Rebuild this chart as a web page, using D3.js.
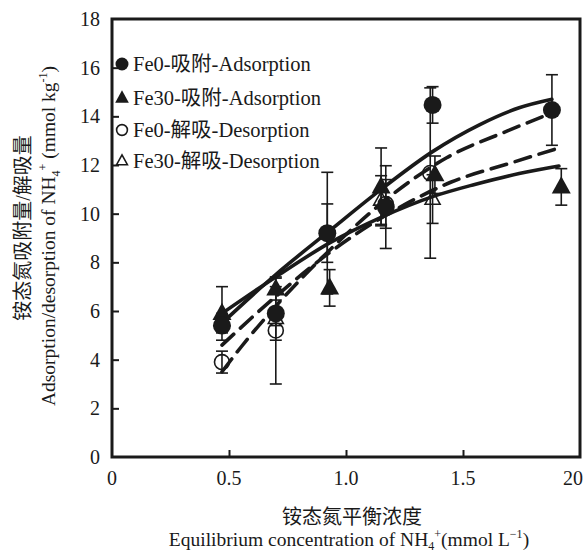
<!DOCTYPE html>
<html><head><meta charset="utf-8">
<script src="https://cdn.jsdelivr.net/npm/d3@7"></script>
<style>
body{margin:0;background:#fff;}
text{font-family:"Liberation Serif","Noto Sans CJK SC",serif;fill:#1a1a1a;}
</style></head>
<body><svg id="c" width="584" height="555"></svg>
<script>
// ---- data ----
const xTicks = [0, 0.5, 1.0, 1.5, 2.0];
const xTickLabels = ["0", "0.5", "1.0", "1.5", "20"];
const yTicks = [0, 2, 4, 6, 8, 10, 12, 14, 16, 18];

const fe0AdsX = [0.47, 0.70, 0.92, 1.17, 1.37, 1.88];
const fe0AdsY = [5.4, 5.9, 9.2, 10.27, 14.47, 14.26];
const fe0AdsE = [0.3, 1.1, 2.5, 1.7, 0.75, 1.45];

const fe30AdsX = [0.47, 0.70, 0.93, 1.15, 1.38, 1.92];
const fe30AdsY = [5.9, 6.9, 6.95, 11.1, 11.6, 11.1];
const fe30AdsE = [1.1, 0.45, 0.75, 1.6, 0.77, 0.75];

const fe0DesX = [0.47, 0.70, 0.92, 1.17, 1.36];
const fe0DesY = [3.9, 5.2, 9.2, 10.4, 11.67];
const fe0DesE = [0.45, 2.2, 1.2, 1.0, 3.5];

const fe30DesX = [0.47, 0.70, 1.15, 1.37];
const fe30DesY = [5.6, 5.7, 10.56, 10.6];
const fe30DesE = [0.3, 0.3, 1.0, 1.0];

// fitted curves
const fitFe0AdsX = [0.47, 0.70, 0.93, 1.15, 1.37, 1.57, 1.74, 1.88];
const fitFe0AdsY = [5.5, 7.5, 9.3, 11.0, 12.55, 13.65, 14.35, 14.7];
const fitFe30AdsX = [0.47, 0.70, 0.93, 1.15, 1.37, 1.55, 1.74, 1.91];
const fitFe30AdsY = [5.9, 7.4, 8.8, 9.85, 10.7, 11.2, 11.65, 11.96];
const fitFe0DesX = [0.47, 0.55, 0.70, 0.93, 1.20, 1.43, 1.69, 1.87];
const fitFe0DesY = [3.5, 4.5, 6.2, 8.5, 10.8, 12.3, 13.4, 14.1];
const fitFe30DesX = [0.47, 0.70, 0.93, 1.20, 1.45, 1.71, 1.91];
const fitFe30DesY = [4.6, 6.6, 8.4, 10.1, 11.3, 12.1, 12.7];

const legendLabels = ["Fe0-吸附-Adsorption", "Fe30-吸附-Adsorption", "Fe0-解吸-Desorption", "Fe30-解吸-Desorption"];

// ---- layout ----
const L = 112, R = 580, T = 19, B = 457;
const svg = d3.select("#c");
const x = d3.scaleLinear().domain([0, 2]).range([L, R]);
const y = d3.scaleLinear().domain([0, 18]).range([B, T]);
const ink = "#1a1a1a";

// ticks (inward)
const xAxis = d3.axisBottom(x).tickValues(xTicks.slice(1, -1)).tickSize(-7).tickFormat("");
const gx = svg.append("g").attr("transform", `translate(0,${B})`).call(xAxis);
gx.select(".domain").remove();
gx.selectAll("line").attr("stroke", ink).attr("stroke-width", 2);

const yAxis = d3.axisLeft(y).tickValues(yTicks.slice(1, -1)).tickSize(-7).tickFormat("");
const gy = svg.append("g").attr("transform", `translate(${L},0)`).call(yAxis);
gy.select(".domain").remove();
gy.selectAll("line").attr("stroke", ink).attr("stroke-width", 2);

// tick labels
svg.append("g").selectAll("text").data(xTicks).join("text")
  .attr("x", (d, i) => i === xTicks.length - 1 ? 583 : x(d))
  .attr("y", B + 28).attr("text-anchor", (d, i) => i === xTicks.length - 1 ? "end" : "middle")
  .attr("font-size", 20).text((d, i) => xTickLabels[i]);
svg.append("g").selectAll("text").data(yTicks).join("text")
  .attr("x", L - 12).attr("y", d => y(d) + 7).attr("text-anchor", "end")
  .attr("font-size", 20).text(d => d);

// frame
svg.append("rect").attr("x", L).attr("y", T).attr("width", R - L).attr("height", B - T)
  .attr("fill", "none").attr("stroke", ink).attr("stroke-width", 3);

// curves
const line = d3.line().x(d => x(d[0])).y(d => y(d[1])).curve(d3.curveMonotoneX);
const fits = [
  [fitFe0AdsX, fitFe0AdsY, null],
  [fitFe30AdsX, fitFe30AdsY, null],
  [fitFe0DesX, fitFe0DesY, "16,9"],
  [fitFe30DesX, fitFe30DesY, "16,9"]
];
fits.forEach(([xs, ys, dash]) => {
  svg.append("path").datum(xs.map((v, i) => [v, ys[i]]))
    .attr("d", line).attr("fill", "none").attr("stroke", ink)
    .attr("stroke-width", 3.6).attr("stroke-linecap", "round")
    .attr("stroke-dasharray", dash);
});

// error bars
const series = [
  {xs: fe0DesX, ys: fe0DesY, es: fe0DesE, type: "ocircle"},
  {xs: fe30DesX, ys: fe30DesY, es: fe30DesE, type: "otri"},
  {xs: fe30AdsX, ys: fe30AdsY, es: fe30AdsE, type: "tri"},
  {xs: fe0AdsX, ys: fe0AdsY, es: fe0AdsE, type: "circle"}
];
series.forEach(s => {
  const g = svg.append("g");
  s.xs.forEach((xv, i) => {
    const cx = x(xv), y1 = y(s.ys[i] + s.es[i]), y2 = y(s.ys[i] - s.es[i]);
    g.append("line").attr("x1", cx).attr("x2", cx).attr("y1", y1).attr("y2", y2)
      .attr("stroke", ink).attr("stroke-width", 1.6);
    [y1, y2].forEach(yy => g.append("line").attr("x1", cx - 6).attr("x2", cx + 6)
      .attr("y1", yy).attr("y2", yy).attr("stroke", ink).attr("stroke-width", 1.6));
  });
});

function triPath(cx, cy, s) {
  const h = s * 0.9;
  return `M${cx},${cy - h * 0.62}L${cx + s / 2},${cy + h * 0.38}L${cx - s / 2},${cy + h * 0.38}Z`;
}
function drawMarker(g, type, cx, cy, scale) {
  if (type === "circle") g.append("circle").attr("cx", cx).attr("cy", cy).attr("r", 9 * scale).attr("fill", ink);
  else if (type === "ocircle") g.append("circle").attr("cx", cx).attr("cy", cy).attr("r", 7.5 * scale)
    .attr("fill", "none").attr("stroke", ink).attr("stroke-width", 1.6);
  else if (type === "tri") g.append("path").attr("d", triPath(cx, cy, 19 * scale)).attr("fill", ink);
  else g.append("path").attr("d", triPath(cx, cy, 15 * scale)).attr("fill", "none")
    .attr("stroke", ink).attr("stroke-width", 1.6);
}
series.forEach(s => {
  const g = svg.append("g");
  s.xs.forEach((xv, i) => drawMarker(g, s.type, x(xv), y(s.ys[i]), 1));
});

// legend
const legTypes = ["circle", "tri", "ocircle", "otri"];
const legY = [64, 98, 130, 161];
legendLabels.forEach((lab, i) => {
  const g = svg.append("g");
  drawMarker(g, legTypes[i], 122, legY[i], 0.72);
  g.append("text").attr("x", 133).attr("y", legY[i] + 7).attr("font-size", 20.5).text(lab);
});

// axis titles
svg.append("text").attr("x", 352).attr("y", 524).attr("text-anchor", "middle")
  .attr("font-size", 20).text("铵态氮平衡浓度");
const xt = svg.append("text").attr("x", 349).attr("y", 546).attr("text-anchor", "middle").attr("font-size", 19.5);
xt.append("tspan").text("Equilibrium concentration of NH");
xt.append("tspan").attr("font-size", 12).attr("dy", 4).text("4");
xt.append("tspan").attr("font-size", 12).attr("dy", -12).text("+");
xt.append("tspan").attr("dy", 8).text("(mmol L");
xt.append("tspan").attr("font-size", 12).attr("dy", -8).text("−1");
xt.append("tspan").attr("dy", 8).text(")");

const yTitles = svg.append("g").attr("opacity", 0.995);
yTitles.append("text").attr("transform", "translate(30,228) rotate(-90)").attr("text-anchor", "middle")
  .attr("font-size", 20).text("铵态氮吸附量/解吸量");
const yt = yTitles.append("text").attr("transform", "translate(55,236) rotate(-90)").attr("text-anchor", "middle").attr("font-size", 19.5);
yt.append("tspan").text("Adsorption/desorption of NH");
yt.append("tspan").attr("font-size", 12).attr("dy", 5).text("4");
yt.append("tspan").attr("font-size", 12).attr("dy", -13).text("+");
yt.append("tspan").attr("dy", 8).text(" (mmol kg");
yt.append("tspan").attr("font-size", 12).attr("dy", -8).text("-1");
yt.append("tspan").attr("dy", 8).text(")");
</script></body></html>
